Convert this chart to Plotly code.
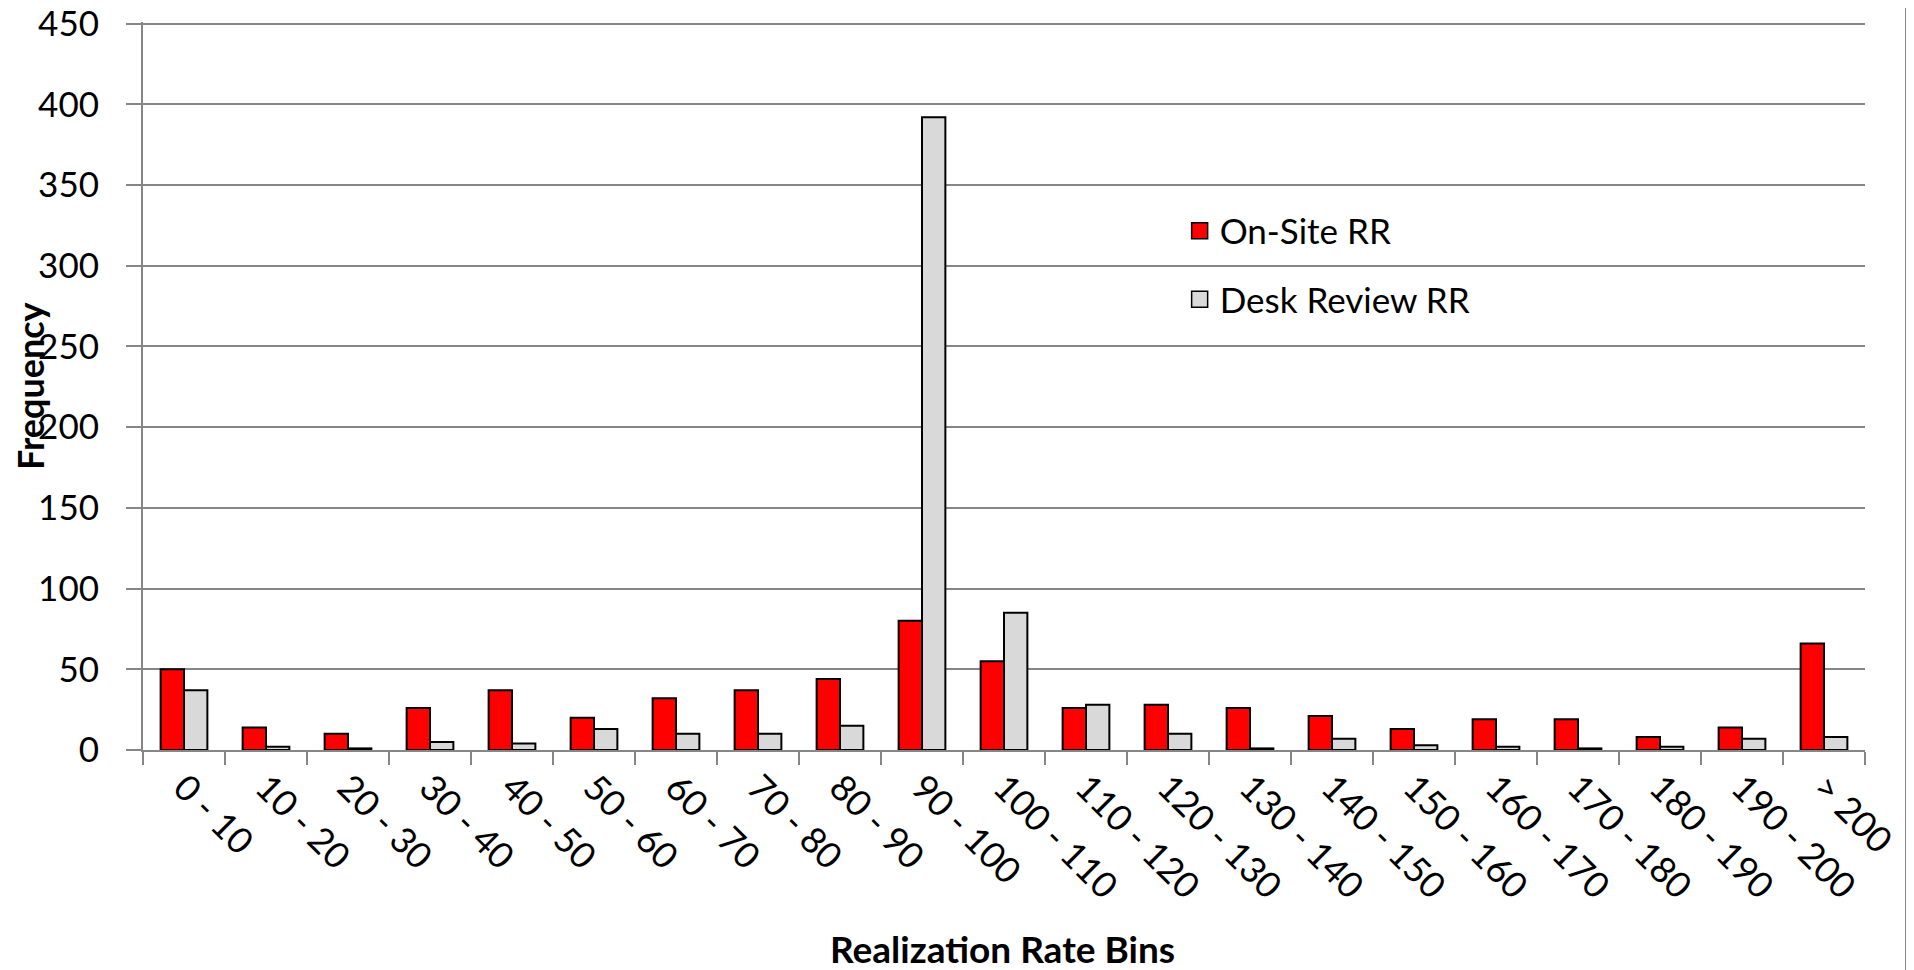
import plotly.graph_objects as go

categories = ["0 - 10", "10 - 20", "20 - 30", "30 - 40", "40 - 50", "50 - 60", "60 - 70",
              "70 - 80", "80 - 90", "90 - 100", "100 - 110", "110 - 120", "120 - 130",
              "130 - 140", "140 - 150", "150 - 160", "160 - 170", "170 - 180", "180 - 190",
              "190 - 200", "> 200"]
onsite_rr = [50, 14, 10, 26, 37, 20, 32, 37, 44, 80, 55, 26, 28, 26, 21, 13, 19, 19, 8, 14, 66]
desk_rr = [37, 2, 1, 5, 4, 13, 10, 10, 15, 392, 85, 28, 10, 1, 7, 3, 2, 1, 2, 7, 8]
y_ticks = [0, 50, 100, 150, 200, 250, 300, 350, 400, 450]

FONT = "Lato, 'Open Sans', sans-serif"
GRID = "#868686"

fig = go.Figure()
fig.add_trace(go.Bar(x=categories, y=onsite_rr, name="On-Site RR",
                     marker=dict(color="#FF0000", line=dict(color="black", width=2)),
                     showlegend=False))
fig.add_trace(go.Bar(x=categories, y=desk_rr, name="Desk Review RR",
                     marker=dict(color="#D9D9D9", line=dict(color="black", width=2)),
                     showlegend=False))
# legend entries with larger square swatches
fig.add_trace(go.Scatter(x=[None], y=[None], mode="markers", name="On-Site RR",
                         legendgroup="a",
                         marker=dict(symbol="square", size=20, color="#FF0000",
                                     line=dict(color="black", width=1.5))))
fig.add_trace(go.Scatter(x=[None], y=[None], mode="markers", name="Desk Review RR",
                         legendgroup="b",
                         marker=dict(symbol="square", size=20, color="#D9D9D9",
                                     line=dict(color="black", width=1.5))))

fig.update_layout(
    width=1914, height=970,
    margin=dict(l=135, r=57, t=14, b=228, autoexpand=False),
    paper_bgcolor="white", plot_bgcolor="white",
    barmode="group", bargap=0.43, bargroupgap=0,
    font=dict(family=FONT, color="black"),
    legend=dict(x=0.602, y=0.7535, xanchor="left", yanchor="top",
                font=dict(size=35, family=FONT), tracegroupgap=20,
                bgcolor="rgba(0,0,0,0)", itemwidth=30),
    showlegend=True,
    annotations=[
        dict(text="<b>Frequency</b>", xref="paper", yref="paper", x=-0.0656, y=0.5,
             textangle=-90, showarrow=False, xanchor="center", yanchor="middle",
             font=dict(size=36, family=FONT)),
        dict(text="<b>Realization Rate Bins</b>", xref="paper", yref="paper", x=0.499, y=-0.272,
             showarrow=False, xanchor="center", yanchor="middle",
             font=dict(size=37, family=FONT)),
    ],
)
fig.update_xaxes(
    type="category", tickangle=45, tickfont=dict(size=36, family=FONT),
    showline=True, linecolor=GRID, linewidth=2, automargin=False,
    ticks="outside", tickson="boundaries", ticklen=13, tickcolor=GRID, tickwidth=2,
    showgrid=False,
)
fig.update_yaxes(
    range=[0, 451], tickvals=y_ticks, tickfont=dict(size=35, family=FONT),
    showline=True, linecolor=GRID, linewidth=2, automargin=False,
    ticks="outside", ticklen=15, tickcolor=GRID, tickwidth=2, ticklabelstandoff=20,
    ticklabeloverflow="allow",
    showgrid=True, gridcolor=GRID, gridwidth=2, zeroline=False,
)
# outer chart-area border on the right
fig.add_shape(type="line", xref="paper", yref="paper", x0=1.0244, x1=1.0244, y0=-0.4, y1=1.1,
              line=dict(color=GRID, width=4))

fig.write_html("out.html")
